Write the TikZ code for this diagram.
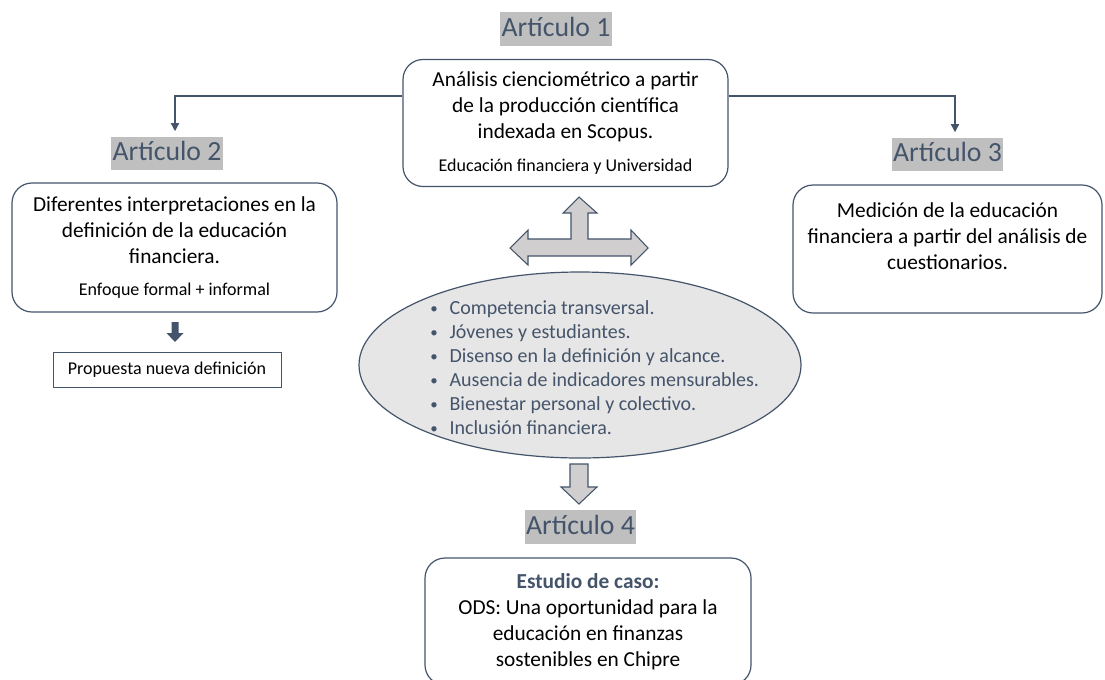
\documentclass[tikz,border=0pt]{standalone}
\usepackage{fontspec}
\setmainfont{Carlito}
\usetikzlibrary{arrows.meta,shapes.geometric}

\definecolor{slate}{HTML}{44546A}
\definecolor{tagback}{HTML}{BFBFBF}
\definecolor{ovalfill}{HTML}{E7E6E6}
\definecolor{arrowfill}{HTML}{D0CECE}
\newcommand{\px}{0.75pt}
\newcommand{\bigtxt}{\fontsize{16}{19.5}\selectfont}
\newcommand{\smalltxt}{\fontsize{13.5}{16}\selectfont}
\newcommand{\itm}[1]{\makebox[15.5pt][l]{\hspace{1pt}\raisebox{1pt}{\scalebox{0.75}{\textbullet}}}#1}

\begin{document}
\begin{tikzpicture}[x=0.75pt,y=-0.75pt,
	tag/.style={fill=tagback,text=slate,font=\fontsize{20.8}{25}\selectfont,inner xsep=1pt,inner ysep=2pt,text height=16pt,text depth=5pt},
	card/.style={draw=slate,line width=0.9pt,rounded corners=15pt,fill=white,align=center,font=\bigtxt,inner sep=0pt},
	link/.style={draw=slate,line width=1.1pt,-{Triangle[length=6pt,width=6pt]},shorten >=4pt},
	fat/.style={draw=slate,line width=0.8pt,fill=arrowfill,line join=miter}]
	\useasboundingbox (0,0) rectangle (1105,679);
	\clip (0,0) rectangle (1105,679);

	\node[tag] (t1) at (556,29) {Artículo 1};
	\node[card,minimum width=325*\px,minimum height=127*\px] (b1) at (565.5,123)
		{Análisis cienciométrico a partir\\de la producción científica\\indexada en Scopus.\\[5pt]{\smalltxt Educación financiera y Universidad}};

	\node[tag] (t2) at (167,153.5) {Artículo 2};
	\node[card,minimum width=325*\px,minimum height=129*\px] (b2) at (174.5,247.5)
		{Diferentes interpretaciones en la\\definición de la educación\\financiera.\\[5pt]{\smalltxt Enfoque formal + informal}};
	\node[draw=slate,line width=0.7pt,minimum width=228*\px,minimum height=35*\px,font=\smalltxt] (nd) at (167,369.5) {Propuesta nueva definición};

	\node[tag] (t3) at (947.5,154.5) {Artículo 3};
	\node[card,minimum width=309*\px,minimum height=128*\px] (b3) at (947.5,249)
		{Medición de la educación\\financiera a partir del análisis de\\cuestionarios.\\ \mbox{}};

	\node[ellipse,draw=slate,line width=0.9pt,fill=ovalfill,minimum width=442*\px,minimum height=186*\px] (ov) at (580,365) {};
	\node[align=left,text=slate,font=\fontsize{15}{18}\selectfont] (lst) at (594,368)
		{\itm{Competencia transversal.}\\\itm{Jóvenes y estudiantes.}\\\itm{Disenso en la definición y alcance.}\\\itm{Ausencia de indicadores mensurables.}\\\itm{Bienestar personal y colectivo.}\\\itm{Inclusión financiera.}};

	\node[tag] (t4) at (580.5,527) {Artículo 4};
	\node[card,minimum width=326*\px,minimum height=127*\px] (b4) at (588,621.5)
		{{\bfseries\color{slate}\bigtxt Estudio de caso:}\\ODS: Una oportunidad para la\\educación en finanzas\\sostenibles en Chipre};

	% connectors
	\coordinate (k2) at (175,96);
	\coordinate (k3) at (955,96);
	\draw[link] (b1.west |- k2) -- (k2) -- (k2 |- t2.north);
	\draw[link] (b1.east |- k3) -- (k3) -- (k3 |- t3.north);

	% block arrows
	\draw[fat] (579,197) -- (597,213) -- (588,213) -- (588,239) -- (631,239) -- (631,230) -- (648,248)
		-- (631,265) -- (631,256) -- (528,256) -- (528,265) -- (510,248) -- (528,230) -- (528,239)
		-- (571,239) -- (571,213) -- (563,213) -- cycle;
	\draw[fat] (570,464) -- (588,464) -- (588,487) -- (597,487) -- (579,504) -- (561,487) -- (570,487) -- cycle;
	\fill[slate] (171.5,322) -- (178.5,322) -- (178.5,333) -- (183.5,333) -- (175,342) -- (166.5,333) -- (171.5,333) -- cycle;
\end{tikzpicture}
\end{document}
